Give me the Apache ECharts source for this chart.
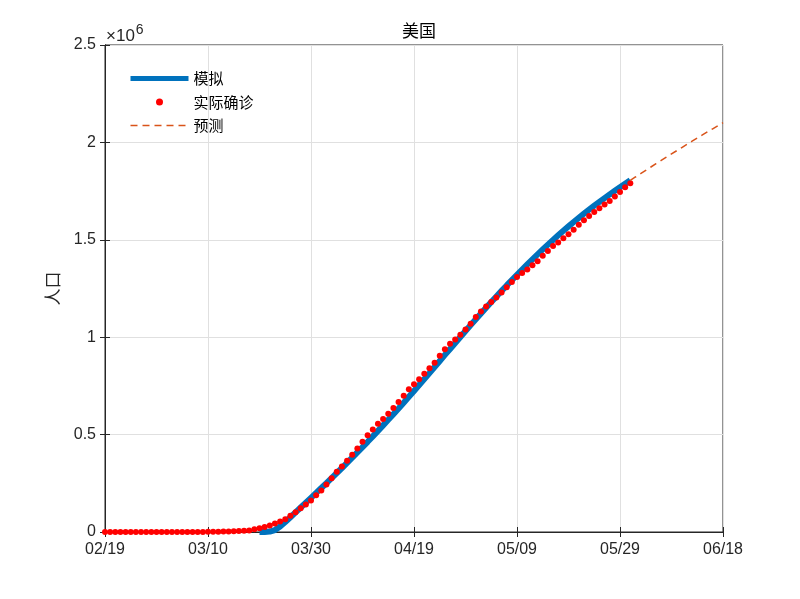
<!DOCTYPE html>
<html>
<head>
<meta charset="utf-8">
<script src="https://cdn.jsdelivr.net/npm/echarts@6/dist/echarts.min.js"></script>
<style>html,body{margin:0;padding:0;background:#fff}#c{width:800px;height:599px}</style>
</head>
<body>
<div id="c"></div>
<script>
// Tick labels for the x axis (every 20 days starting 02/19)
const xTickLabels = ['02/19', '03/10', '03/30', '04/19', '05/09', '05/29', '06/18'];
const xTickStep = 20;

// Actual confirmed (实际确诊), daily from 02/19 (day 0) to 05/31 (day 102)
const confirmedValues = [
  13, 13, 15, 15, 15, 51, 51, 57, 58, 60, 68,
  74, 98, 118, 149, 217, 262, 402, 518, 583, 959, 1281, 1663, 2179, 2727, 3499, 4632, 6421, 7786, 13680, 19101,
  25493, 33276, 43847, 53740, 65778, 83836, 101657, 121465, 140909, 161831, 188172,
  213242, 243622, 275367, 308650, 336802, 366317, 397121, 428654, 462780, 496535, 526396, 555313, 580619, 607670,
  636350, 667801, 699706, 732197, 759086, 784326, 811865, 840351, 869170, 905358, 938154, 965785, 988197, 1012582,
  1039909, 1069424,
  1103461, 1132539, 1158040, 1180375, 1204351, 1229331, 1257023, 1283929, 1309550, 1329260, 1347881, 1369376,
  1390406, 1417774, 1442824, 1467820, 1486757, 1508308, 1528568, 1551853, 1577147, 1600937, 1622612, 1643246,
  1662302, 1680913, 1699176, 1721750, 1746019, 1770165, 1790191
];

// Model fit (模拟): days 30..102
const modelStartDay = 30;
const modelValues = [
  0, 0, 2000, 10000, 28000, 51000, 75500, 100500, 125500, 150500,
  175500, 200500, 225700, 251100, 276700, 302500, 328500, 354800, 381400, 408300,
  435500, 463000, 490800, 518900, 547300, 576000, 605000, 634300, 663900, 693800,
  724000, 754400, 785000, 815800, 846800, 877900, 909100, 939800, 970500, 1001100,
  1031600, 1061900, 1092000, 1121800, 1151300, 1180500, 1209300, 1237700, 1265700, 1293300,
  1320500, 1347300, 1373700, 1399700, 1425300, 1450500, 1475200, 1499400, 1523100, 1546300,
  1569000, 1591200, 1612900, 1634100, 1654800, 1675000, 1694700, 1714000, 1732900, 1751400,
  1769600, 1787500, 1805100
];

// Prediction (预测): days 102..120
const predictStartDay = 102;
const predictValues = [
  1805100, 1822400, 1839600, 1856700, 1873700, 1890600, 1907400, 1924100, 1940700, 1957200,
  1973600, 1989900, 2006100, 2022200, 2038200, 2054100, 2069900, 2085600, 2101200
];

const yTickValues = [0, 500000, 1000000, 1500000, 2000000, 2500000];
const yTickLabels = ['0', '0.5', '1', '1.5', '2', '2.5'];

const confirmedData = confirmedValues.map((v, i) => [i, v]);
const modelData = modelValues.map((v, i) => [modelStartDay + i, v]);
const predictData = predictValues.map((v, i) => [predictStartDay + i, v]);

const latin = 'Liberation Sans, Arial, sans-serif';
const cjk = 'Noto Sans CJK SC, sans-serif';
const axisColor = '#262626';

const chart = echarts.init(document.getElementById('c'), null, {renderer: 'canvas'});
chart.setOption({
  animation: false,
  backgroundColor: '#fff',
  title: [
    {text: '美国', left: 414, top: 17, textAlign: 'center',
     textStyle: {fontFamily: cjk, fontSize: 17, fontWeight: 'normal', color: '#000'}},
    {text: '{a|×10}{b|6}', left: 101, top: 18,
     textStyle: {fontWeight: 'normal', fontSize: 17, fontFamily: latin, rich: {
       a: {fontFamily: latin, fontSize: 17, fontWeight: 'normal', color: axisColor},
       b: {fontFamily: latin, fontSize: 14, fontWeight: 'normal', color: axisColor, padding: [0, 0, 12, 1]}
     }}}
  ],
  legend: {
    orient: 'vertical', left: 128, top: 71, padding: 0, itemWidth: 58, itemHeight: 7, itemGap: 8.5,
    textStyle: {fontFamily: cjk, fontSize: 15, color: '#000'},
    data: [
      {name: '模拟', lineStyle: {width: 5}, itemStyle: {opacity: 0}},
      {name: '实际确诊', itemStyle: {opacity: 1}},
      {name: '预测', lineStyle: {width: 1.5}, itemStyle: {opacity: 0}}
    ]
  },
  grid: {left: 105, right: 77, top: 45, bottom: 67, show: true, borderColor: axisColor, borderWidth: 1},
  xAxis: [{
    type: 'value', min: 0, max: 120, interval: xTickStep,
    axisLine: {show: true, lineStyle: {color: axisColor}},
    axisTick: {show: true, inside: true, length: 5, lineStyle: {color: axisColor}},
    axisLabel: {margin: 10, fontFamily: latin, fontSize: 16, color: axisColor,
      formatter: v => xTickLabels[Math.round(v / xTickStep)]},
    splitLine: {show: true, lineStyle: {color: '#e0e0e0'}}
  }, {
    type: 'value', position: 'top', min: 0, max: 120, interval: xTickStep,
    axisLine: {show: true, lineStyle: {color: axisColor}},
    axisTick: {show: true, inside: true, length: 5, lineStyle: {color: axisColor}},
    axisLabel: {show: false}, splitLine: {show: false}
  }],
  yAxis: [{
    type: 'value', min: 0, max: 2500000, interval: 500000,
    name: '人口', nameLocation: 'middle', nameRotate: 90, nameGap: 44,
    nameTextStyle: {fontFamily: cjk, fontSize: 17, color: axisColor},
    axisLine: {show: true, lineStyle: {color: axisColor}},
    axisTick: {show: true, inside: true, length: 5, lineStyle: {color: axisColor}},
    axisLabel: {margin: 9, fontFamily: latin, fontSize: 16, color: axisColor,
      formatter: v => yTickLabels[yTickValues.indexOf(v)]},
    splitLine: {show: true, lineStyle: {color: '#e0e0e0'}}
  }, {
    type: 'value', position: 'right', min: 0, max: 2500000, interval: 500000,
    axisLine: {show: true, lineStyle: {color: axisColor}},
    axisTick: {show: true, inside: true, length: 5, lineStyle: {color: axisColor}},
    axisLabel: {show: false}, splitLine: {show: false}
  }],
  series: [
    {name: '模拟', type: 'line', data: modelData, showSymbol: false, symbol: 'none',
     lineStyle: {color: '#0072BD', width: 6}, itemStyle: {color: '#0072BD'}, z: 2},
    {name: '实际确诊', type: 'scatter', data: confirmedData, symbol: 'circle', symbolSize: 6,
     itemStyle: {color: '#ff0000', opacity: 1}, z: 3},
    {name: '预测', type: 'line', data: predictData, showSymbol: false, symbol: 'none',
     lineStyle: {color: '#D95319', width: 1.5, type: [7, 5]}, itemStyle: {color: '#D95319'}, z: 4}
  ]
});
</script>
</body>
</html>
